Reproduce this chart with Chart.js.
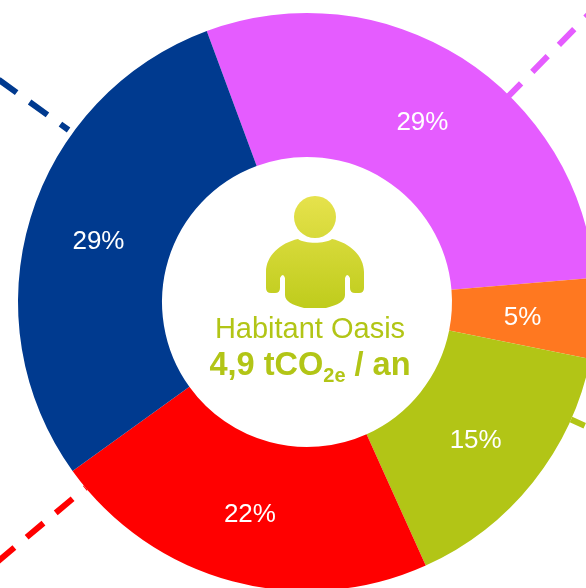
<!DOCTYPE html>
<html>
<head>
<meta charset="utf-8">
<script src="https://cdn.jsdelivr.net/npm/chart.js@4"></script>
<style>
  html, body { margin: 0; padding: 0; width: 586px; height: 588px; overflow: hidden; background: #fff; }
  #wrap { position: absolute; left: -43px; top: -48px; width: 700px; height: 700px; }
</style>
</head>
<body>
<div id="wrap"><canvas id="myChart" width="700" height="700"></canvas></div>
<script>
const categories = ["Violet", "Orange", "Vert", "Rouge", "Bleu"];
const values = [29.3, 4.5, 15.1, 21.8, 29.3];
const colors = ["#E55CFF", "#FF7820", "#B2C516", "#FF0000", "#003A8F"];

const titleText = "Habitant Oasis";
const amountText = "4,9 tCO";
const subText = "2e";
const unitText = " / an";
const textGreen = "#B2C516";

// dashed lines going out of the ring: angle from the top, colour, start radius, dash offset
const leaderAngles = [44.4, 114, 230, 305.8];
const leaderColors = ["#E55CFF", "#B2C516", "#FF0000", "#003A8F"];
const leaderStart = [287, 289, 289, 294];
const leaderOffset = [3, 7, 21, 12];

const personIcon = new Path2D(
  "M298 239 C305 244 325 244 332 239 C350 243 364 256 364 272 L364 288 Q364 293 359 293 L355 293 Q350 293 350 288 " +
  "L350 278 Q347 272 345 278 L345 295 C345 301 338 305 326 308 L304 308 C292 305 285 301 285 295 L285 278 " +
  "Q283 272 280 278 L280 288 Q280 293 275 293 L271 293 Q266 293 266 288 L266 272 C266 256 280 243 298 239 Z"
);

const ringDecor = {
  id: "ringDecor",
  beforeDatasetsDraw(chart) {
    const c = chart.ctx;
    const arc0 = chart.getDatasetMeta(0).data[0];
    const outer = arc0.outerRadius;
    c.save();
    c.lineWidth = 6;
    c.setLineDash([22, 16]);
    leaderAngles.forEach(function (a, i) {
      const rad = (a - 90) * Math.PI / 180;
      c.strokeStyle = leaderColors[i];
      c.lineDashOffset = leaderOffset[i];
      c.beginPath();
      c.moveTo(arc0.x + Math.cos(rad) * leaderStart[i], arc0.y + Math.sin(rad) * leaderStart[i]);
      c.lineTo(arc0.x + Math.cos(rad) * (outer + 140), arc0.y + Math.sin(rad) * (outer + 140));
      c.stroke();
    });
    c.restore();
  },
  afterDatasetsDraw(chart) {
    const c = chart.ctx;
    const arcs = chart.getDatasetMeta(0).data;
    const cx = arcs[0].x, cy = arcs[0].y;
    c.save();
    // percent labels
    c.fillStyle = "#fff";
    c.font = "26px 'Liberation Sans'";
    c.textAlign = "center";
    c.textBaseline = "middle";
    arcs.forEach(function (arc, i) {
      const p = arc.getCenterPoint();
      c.fillText(Math.round(values[i]) + "%", p.x - 1, p.y + 3.5);
    });
    // person icon
    c.save();
    c.translate(cx - 307, cy - 302);
    const g = c.createLinearGradient(0, 196, 0, 308);
    g.addColorStop(0, "#E6E24C");
    g.addColorStop(1, "#BFCC1C");
    c.fillStyle = g;
    c.beginPath();
    c.arc(315, 217, 21, 0, Math.PI * 2);
    c.fill();
    c.fill(personIcon);
    c.restore();
    // centre text
    c.fillStyle = textGreen;
    c.textBaseline = "alphabetic";
    c.textAlign = "center";
    c.font = "29px 'Liberation Sans'";
    c.fillText(titleText, cx + 3, cy + 36);
    const big = "bold 32.5px 'Liberation Sans'";
    const small = "bold 20px 'Liberation Sans'";
    c.font = big;
    const w1 = c.measureText(amountText).width;
    const w3 = c.measureText(unitText).width;
    c.font = small;
    const w2 = c.measureText(subText).width;
    let x = cx + 3 - (w1 + w2 + w3) / 2;
    c.textAlign = "left";
    c.font = big;
    c.fillText(amountText, x, cy + 73);
    x += w1;
    c.font = small;
    c.fillText(subText, x, cy + 80);
    x += w2;
    c.font = big;
    c.fillText(unitText, x, cy + 73);
    c.restore();
  }
};

new Chart(document.getElementById("myChart"), {
  type: "doughnut",
  data: {
    labels: categories,
    datasets: [{ data: values, backgroundColor: colors, borderWidth: 0 }]
  },
  options: {
    responsive: false,
    animation: false,
    radius: 289,
    cutout: "50.17%",
    rotation: -20.3,
    plugins: { legend: { display: false }, tooltip: { enabled: false } }
  },
  plugins: [ringDecor]
});
</script>
</body>
</html>
